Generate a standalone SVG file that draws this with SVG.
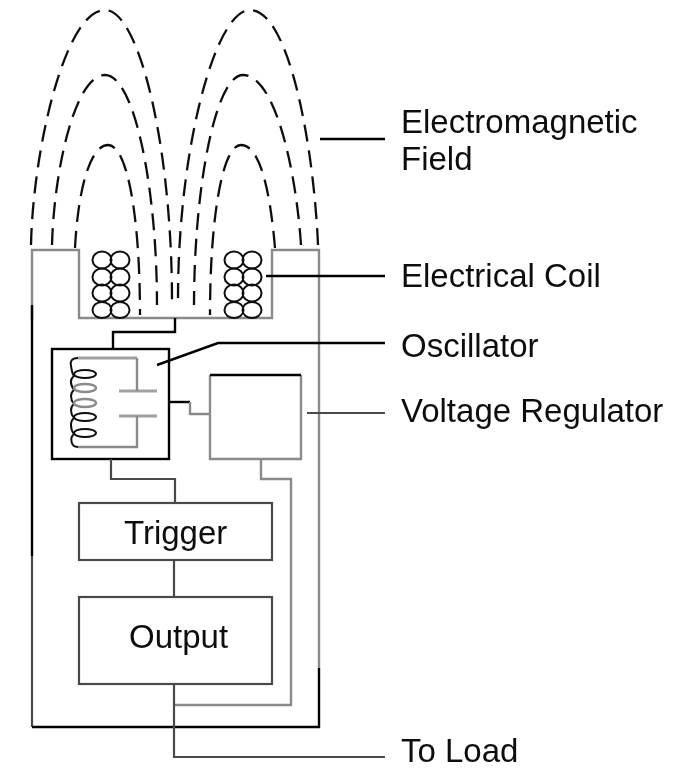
<svg xmlns="http://www.w3.org/2000/svg" width="692" height="769" viewBox="0 0 692 769">
<style>
.g{fill:none;stroke:#8a8a8a;stroke-width:2.4}
.w{fill:none;stroke:#a0a0a0;stroke-width:3}
.m{fill:none;stroke:#4a4a4a;stroke-width:2.2}
.k{fill:none;stroke:#000;stroke-width:2.4}
.f{fill:none;stroke:#111;stroke-width:2.3;stroke-dasharray:17 9}
.c{fill:none;stroke:#111;stroke-width:2}
text{font-family:"Liberation Sans",Arial,sans-serif;font-size:33px;fill:#111}
</style>
<defs><filter id="b" x="-5%" y="-5%" width="110%" height="110%"><feGaussianBlur stdDeviation="0.6"/></filter></defs>
<rect width="692" height="769" fill="#fff"/>
<g filter="url(#b)">
<g id="field">
<path class="f" d="M31,245C33,150 65,10 105,10C140,10 172,150 172,300"/>
<path class="f" d="M318,245C314,150 290,10 250,10C215,10 178,150 178,298"/>
<path class="f" d="M52,245C54,170 75,75 105,75C135,75 157,190 157,305"/>
<path class="f" d="M301,245C296,170 275,75 243,75C215,75 194,190 194,305"/>
<path class="f" d="M75,248C78,190 90,145 108,145C128,145 140,220 140,315"/>
<path class="f" d="M275,248C270,190 260,145 241,145C222,145 210,220 210,315"/>
</g>
<g id="housing">
<path class="g" d="M32,320V250H79V318H272V250H319V668"/>
<path class="m" d="M32,556V727"/>
<path class="k" d="M32,305V556M32,727H319V668"/>
</g>
<g id="coil-left">
<ellipse class="c" cx="102" cy="260" rx="9.5" ry="8.5"/><ellipse class="c" cx="120" cy="260" rx="9.5" ry="8.5"/>
<ellipse class="c" cx="102" cy="277" rx="9.5" ry="8.5"/><ellipse class="c" cx="120" cy="277" rx="9.5" ry="8.5"/>
<ellipse class="c" cx="102" cy="293" rx="9.5" ry="8.5"/><ellipse class="c" cx="120" cy="293" rx="9.5" ry="8.5"/>
<ellipse class="c" cx="102" cy="310" rx="9.5" ry="8"/><ellipse class="c" cx="120" cy="310" rx="9.5" ry="8"/>
</g>
<g id="coil-right">
<ellipse class="c" cx="234" cy="260" rx="9.5" ry="8.5"/><ellipse class="c" cx="252" cy="260" rx="9.5" ry="8.5"/>
<ellipse class="c" cx="234" cy="277" rx="9.5" ry="8.5"/><ellipse class="c" cx="252" cy="277" rx="9.5" ry="8.5"/>
<ellipse class="c" cx="234" cy="293" rx="9.5" ry="8.5"/><ellipse class="c" cx="252" cy="293" rx="9.5" ry="8.5"/>
<ellipse class="c" cx="234" cy="310" rx="9.5" ry="8"/><ellipse class="c" cx="252" cy="310" rx="9.5" ry="8"/>
</g>
<g id="oscillator">
<rect class="k" x="52" y="349" width="117" height="110"/>
<path class="w" d="M78,358H137M119,391H157M119,416H157"/>
<path class="g" d="M137,358V391M137,416V447H78"/>
<path class="c" d="M78,358C71,358 70,362 71,366C72,371 72,374 74,376C70,379 70,384 74,390C70,393 70,399 74,404C70,407 70,413 74,418C70,421 70,429 74,434C70,437 70,447 78,447"/>
<ellipse class="c" cx="85" cy="374" rx="11" ry="4"/>
<ellipse class="g" cx="85" cy="388" rx="11" ry="4"/>
<ellipse class="g" cx="85" cy="403" rx="11" ry="4"/>
<ellipse class="c" cx="85" cy="417" rx="11" ry="4"/>
<ellipse class="c" cx="85" cy="433" rx="11" ry="4"/>
</g>
<g id="regulator">
<path class="g" d="M210,375V459H301V375"/><path class="k" d="M210,375H301"/>
</g>
<g id="trigger">
<rect class="m" x="79" y="503" width="193" height="57"/>
<text x="124" y="544">Trigger</text>
</g>
<g id="output">
<rect class="m" x="79" y="597" width="193" height="87"/>
<text x="129" y="648">Output</text>
</g>
<g id="connectors">
<path class="k" d="M113,349V332H175V318"/>
<path class="k" d="M169,402H190"/><path class="g" d="M190,402V414H210"/>
<path class="m" d="M111,459V479H175V503"/>
<path class="g" d="M261,459V479H291V705H174"/>
<path class="m" d="M174,560V597M174,684V757H385"/>
<path class="k" d="M157,365L218,343H385"/>
<path class="k" d="M320,139H385"/>
<path class="k" d="M266,276H385"/>
<path class="m" d="M307,413H385"/>
</g>
<g id="labels">
<text x="401" y="133">Electromagnetic</text>
<text x="401" y="170">Field</text>
<text x="401" y="287">Electrical Coil</text>
<text x="401" y="357">Oscillator</text>
<text x="401" y="422">Voltage Regulator</text>
<text x="401" y="762">To Load</text>
</g>
</g>
</svg>
